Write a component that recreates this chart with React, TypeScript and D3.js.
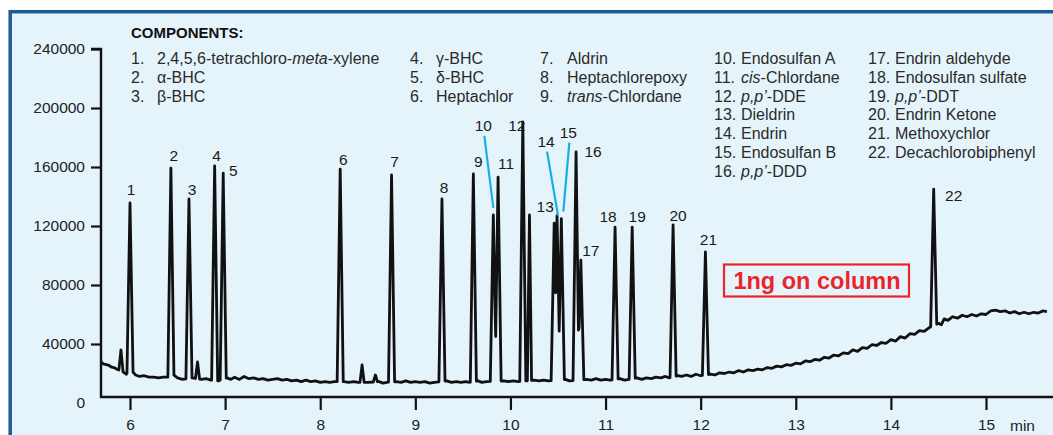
import { useRef, useEffect } from "react";
import * as d3 from "d3";

// labelled peaks: retention time (min) and apex response
const peakLabels = ["1", "2", "3", "4", "5", "6", "7", "8", "9", "10", "11", "12", "13", "14", "15", "16", "17", "18", "19", "20", "21", "22"];
const peakTimes = [6.0, 6.43, 6.62, 6.89, 6.98, 8.21, 8.75, 9.28, 9.61, 9.82, 9.87, 10.13, 10.46, 10.49, 10.535, 10.69, 10.74, 11.1, 11.28, 11.71, 12.05, 14.45];
const peakHeights = [135600, 159300, 138300, 160700, 155900, 158600, 154600, 138300, 155300, 127500, 153200, 190500, 122000, 127000, 125000, 170200, 96900, 119300, 119300, 120700, 102400, 145000];

// small unlabelled peaks
const minorTimes = [5.905, 6.71, 8.44, 8.58, 10.2];
const minorHeights = [36000, 27800, 25800, 19000, 127500];

// baseline trace: [min, response]
const baseline: [number, number][] = [
  [5.695, 28000], [5.72, 26500], [5.75, 26000], [5.78, 25500], [5.8, 24500], [5.83, 24000], [5.86, 23000], [5.88, 22500],
  [5.93, 21000], [5.96, 19500], [5.98, 21000], [6.03, 21000], [6.06, 19000], [6.1, 18000], [6.15, 18500], [6.2, 17500],
  [6.25, 17500], [6.3, 17000], [6.35, 17500], [6.4, 17500], [6.46, 19000], [6.5, 17000], [6.55, 16000], [6.6, 16500],
  [6.65, 17000], [6.75, 16000], [6.8, 16500], [6.85, 15500], [6.93, 15000], [7.02, 17000], [7.06, 16000], [7.1, 17500],
  [7.15, 16000], [7.2, 18000], [7.25, 16500], [7.3, 17000], [7.35, 16000], [7.4, 16500], [7.45, 15500], [7.5, 16000],
  [7.55, 16500], [7.6, 15500], [7.65, 16000], [7.7, 15000], [7.75, 15500], [7.8, 14500], [7.85, 15500], [7.9, 14500],
  [7.95, 15000], [8.0, 14000], [8.05, 14500], [8.1, 14000], [8.15, 14500], [8.25, 14500], [8.3, 14000], [8.35, 14500],
  [8.4, 14000], [8.5, 14000], [8.62, 14500], [8.66, 13500], [8.7, 14000], [8.8, 14500], [8.85, 14000], [8.9, 15000],
  [8.95, 14000], [9.0, 14500], [9.05, 14000], [9.1, 14500], [9.15, 13500], [9.2, 14000], [9.33, 15000], [9.38, 14000],
  [9.43, 14500], [9.48, 14000], [9.53, 14500], [9.57, 14000], [9.66, 15000], [9.7, 14000], [9.75, 14500], [9.93, 15000],
  [9.98, 14500], [10.03, 15000], [10.08, 14500], [10.25, 15500], [10.3, 15000], [10.35, 15500], [10.4, 15000], [10.58, 16000],
  [10.62, 15000], [10.8, 16000], [10.85, 15500], [10.9, 16500], [10.95, 15500], [11.0, 16000], [11.05, 15500], [11.15, 16500],
  [11.2, 15500], [11.33, 17000], [11.38, 16000], [11.43, 17000], [11.48, 16500], [11.53, 17500], [11.58, 17000], [11.63, 18000],
  [11.67, 17000], [11.76, 18500], [11.8, 18000], [11.85, 19000], [11.9, 18000], [11.95, 19500], [12.0, 18500], [12.1, 19500],
  [12.15, 19000], [12.2, 20500], [12.25, 20000], [12.3, 21000], [12.35, 20500], [12.4, 22000], [12.45, 21000], [12.5, 22500],
  [12.55, 22000], [12.6, 23000], [12.65, 22500], [12.7, 24000], [12.75, 23500], [12.8, 25000], [12.85, 24500], [12.9, 26000],
  [12.95, 25500], [13.0, 27000], [13.05, 26500], [13.1, 28500], [13.15, 28000], [13.2, 29500], [13.25, 29000], [13.3, 31000],
  [13.35, 30500], [13.4, 32500], [13.45, 32000], [13.5, 34000], [13.55, 33500], [13.6, 36000], [13.65, 35000], [13.7, 37500],
  [13.75, 37000], [13.8, 39500], [13.85, 39000], [13.9, 41000], [13.95, 40500], [14.0, 43000], [14.05, 42000], [14.1, 45000],
  [14.15, 44000], [14.2, 47000], [14.25, 46500], [14.3, 49000], [14.35, 48500], [14.4, 51000], [14.43, 52000], [14.5, 54000],
  [14.53, 53000], [14.56, 57000], [14.6, 56000], [14.65, 58500], [14.7, 57500], [14.75, 59500], [14.8, 58500], [14.85, 60000],
  [14.9, 59000], [14.95, 60500], [15.0, 60000], [15.05, 62500], [15.1, 63000], [15.15, 62000], [15.2, 62500], [15.25, 61000],
  [15.3, 62000], [15.35, 60500], [15.4, 61500], [15.45, 60500], [15.5, 61500], [15.55, 61000], [15.6, 62500], [15.64, 62000],
];

const xTicks = [6, 7, 8, 9, 10, 11, 12, 13, 14, 15];
const yTicks = [0, 40000, 80000, 120000, 160000, 200000, 240000];

// legend columns: entries as "num|name", _x_ marks italic
const legendCol1 = ["1.|2,4,5,6-tetrachloro-_meta_-xylene", "2.|α-BHC", "3.|β-BHC"];
const legendCol2 = ["4.|γ-BHC", "5.|δ-BHC", "6.|Heptachlor"];
const legendCol3 = ["7.|Aldrin", "8.|Heptachlorepoxy", "9.|_trans_-Chlordane"];
const legendCol4 = ["10.|Endosulfan A", "11.|_cis_-Chlordane", "12.|_p,p’_-DDE", "13.|Dieldrin", "14.|Endrin", "15.|Endosulfan B", "16.|_p,p’_-DDD"];
const legendCol5 = ["17.|Endrin aldehyde", "18.|Endosulfan sulfate", "19.|_p,p’_-DDT", "20.|Endrin Ketone", "21.|Methoxychlor", "22.|Decachlorobiphenyl"];

// label placement relative to apex (px)
const labelOffsets: Record<string, [number, number]> = {
  "1": [1, -13], "2": [3, -12], "3": [3, -9], "4": [2, -10], "5": [10, -2], "6": [3, -9], "7": [3, -13], "8": [2, -11],
  "9": [5, -12], "11": [8, -13], "12": [-6, 4], "13": [-9, -16], "16": [17, 0], "17": [10, -9], "18": [-7, -10],
  "19": [5, -10], "20": [5, -9], "21": [3, -12], "22": [20, 6],
};
// labels with leader lines: label offset, line end offset from apex
const leaderOffsets: Record<string, [number, number, number, number]> = {
  "10": [-10, -89, 0, -7],
  "14": [-11, -74, 1, 0],
  "15": [7, -86, 2, -7],
};

const FONT = "'Liberation Sans', Arial, Helvetica, sans-serif";
const HALF_WIDTH = 0.032;

const Chromatogram = () => {
  const ref = useRef<SVGSVGElement>(null);

  useEffect(() => {
    if (!ref.current) return;
    const svg = d3.select(ref.current);
    svg.selectAll("*").remove();

    const W = 1053;
    const left = 101;
    const axisY = 397;
    const x = d3.scaleLinear().domain([6, 15]).range([130, 986]);
    const y = d3.scaleLinear().domain([0, 240000]).range([403, 49]);

    // panel
    svg.append("rect").attr("width", W).attr("height", 435).attr("fill", "#fff");
    svg.append("rect")
      .attr("x", 10.2).attr("y", 11.7).attr("width", 1100).attr("height", 500)
      .attr("fill", "#e5f4fb").attr("stroke", "#1c5b97").attr("stroke-width", 3.5);

    // build trace from baseline + peaks
    const bx = baseline.map((d) => d[0]);
    const baseAt = (t: number) => {
      const i = Math.max(1, Math.min(bx.length - 1, d3.bisectLeft(bx, t)));
      const [t0, v0] = baseline[i - 1];
      const [t1, v1] = baseline[i];
      return d3.interpolateNumber(v0, v1)((t - t0) / (t1 - t0));
    };
    const peaks = peakTimes
      .map((t, i) => ({ t, h: peakHeights[i], w: HALF_WIDTH }))
      .concat(minorTimes.map((t, i) => ({ t, h: minorHeights[i], w: 0.022 })))
      .sort((a, b) => a.t - b.t);
    const samples = new Set<number>(bx);
    peaks.forEach((p, i) => {
      samples.add(p.t);
      samples.add(p.t - p.w);
      samples.add(p.t + p.w);
      const n = peaks[i + 1];
      if (n && n.t - p.t < p.w + n.w) samples.add((p.t + n.t) / 2);
    });
    const trace = Array.from(samples)
      .filter((t) => t >= bx[0] && t <= bx[bx.length - 1])
      .sort((a, b) => a - b)
      .map((t) => {
        const b = baseAt(t);
        let v = b;
        peaks.forEach((p) => {
          const d = Math.abs(t - p.t);
          if (d < p.w) v = Math.max(v, p.h - ((p.h - b) * d) / p.w);
        });
        return [t, v] as [number, number];
      });

    svg.append("path")
      .datum(trace)
      .attr("fill", "none")
      .attr("stroke", "#111")
      .attr("stroke-width", 2.8)
      .attr("stroke-linejoin", "round")
      .attr("d", d3.line<[number, number]>().x((d) => x(d[0])).y((d) => y(d[1])));

    // axes
    const yAxis = svg.append("g")
      .attr("transform", `translate(${left},0)`)
      .call(d3.axisLeft(y).tickValues(yTicks).tickSize(10).tickPadding(6).tickFormat(d3.format("d")));
    yAxis.select(".domain").remove();
    yAxis.selectAll(".tick line").filter((d) => d === 0).remove();
    yAxis.selectAll(".tick line").attr("stroke", "#111").attr("stroke-width", 2.2);
    yAxis.selectAll("text").attr("font-size", 15.5).attr("font-family", FONT).attr("fill", "#222");

    const xAxis = svg.append("g")
      .attr("transform", `translate(0,${axisY})`)
      .call(d3.axisBottom(x).tickValues(xTicks).tickSize(13).tickPadding(9).tickFormat(d3.format("d")));
    xAxis.select(".domain").remove();
    xAxis.selectAll(".tick line").attr("stroke", "#111").attr("stroke-width", 2.2);
    xAxis.selectAll("text").attr("font-size", 15.5).attr("font-family", FONT).attr("fill", "#222");

    svg.append("path")
      .attr("d", `M${left - 10},${y(240000)}H${left}V${axisY}H${W}`)
      .attr("fill", "none").attr("stroke", "#111").attr("stroke-width", 2.4);

    svg.append("text").attr("x", 1010).attr("y", 430.5)
      .attr("font-size", 15.5).attr("font-family", FONT).attr("fill", "#222").text("min");

    // peak labels
    const labels = svg.append("g").attr("font-size", 15.5).attr("font-family", FONT).attr("fill", "#1a1a1a").attr("text-anchor", "middle");
    peakLabels.forEach((lab, i) => {
      const px = x(peakTimes[i]);
      const py = y(peakHeights[i]);
      const off = labelOffsets[lab];
      const lead = leaderOffsets[lab];
      if (off) {
        labels.append("text").attr("x", px + off[0]).attr("y", py + off[1]).attr("dy", "0.35em").text(lab);
      } else if (lead) {
        const lx = px + lead[0];
        const ly = py + lead[1];
        svg.append("line")
          .attr("x1", lx + 1).attr("y1", ly + 10).attr("x2", px + lead[2]).attr("y2", py + lead[3])
          .attr("stroke", "#1aaee6").attr("stroke-width", 2.2);
        labels.append("text").attr("x", lx).attr("y", ly).attr("dy", "0.35em").text(lab);
      }
    });

    // legend
    const legend = svg.append("g").attr("font-family", FONT).attr("font-size", 16).attr("fill", "#2a2a2a");
    legend.append("text").attr("x", 131).attr("y", 37.5).attr("font-size", 15).attr("font-weight", "bold").attr("fill", "#111").text("COMPONENTS:");
    const cols: [string[], number, number][] = [
      [legendCol1, 131, 157],
      [legendCol2, 410, 436],
      [legendCol3, 540, 567],
      [legendCol4, 714, 741],
      [legendCol5, 868, 895],
    ];
    cols.forEach(([items, nx, tx]) => {
      items.forEach((item, r) => {
        const [num, name] = item.split("|");
        const yy = 63.8 + r * 18.85;
        legend.append("text").attr("x", nx).attr("y", yy).text(num);
        const t = legend.append("text").attr("x", tx).attr("y", yy);
        name.split("_").forEach((part, k) => {
          if (!part) return;
          t.append("tspan").attr("font-style", k % 2 ? "italic" : "normal").text(part);
        });
      });
    });

    // annotation box
    svg.append("rect").attr("x", 724).attr("y", 264.5).attr("width", 185).attr("height", 32)
      .attr("fill", "none").attr("stroke", "#e8262c").attr("stroke-width", 2.2);
    svg.append("text").attr("x", 817).attr("y", 281).attr("dy", "0.36em")
      .attr("text-anchor", "middle").attr("font-family", FONT).attr("font-weight", "bold")
      .attr("font-size", 23.5).attr("fill", "#e8262c").text("1ng on column");
  }, []);

  return (
    <svg ref={ref} width={1053} height={435} style={{ position: "absolute", left: 0, top: 0, display: "block" }} />
  );
};

export default function App() {
  return <Chromatogram />;
}
